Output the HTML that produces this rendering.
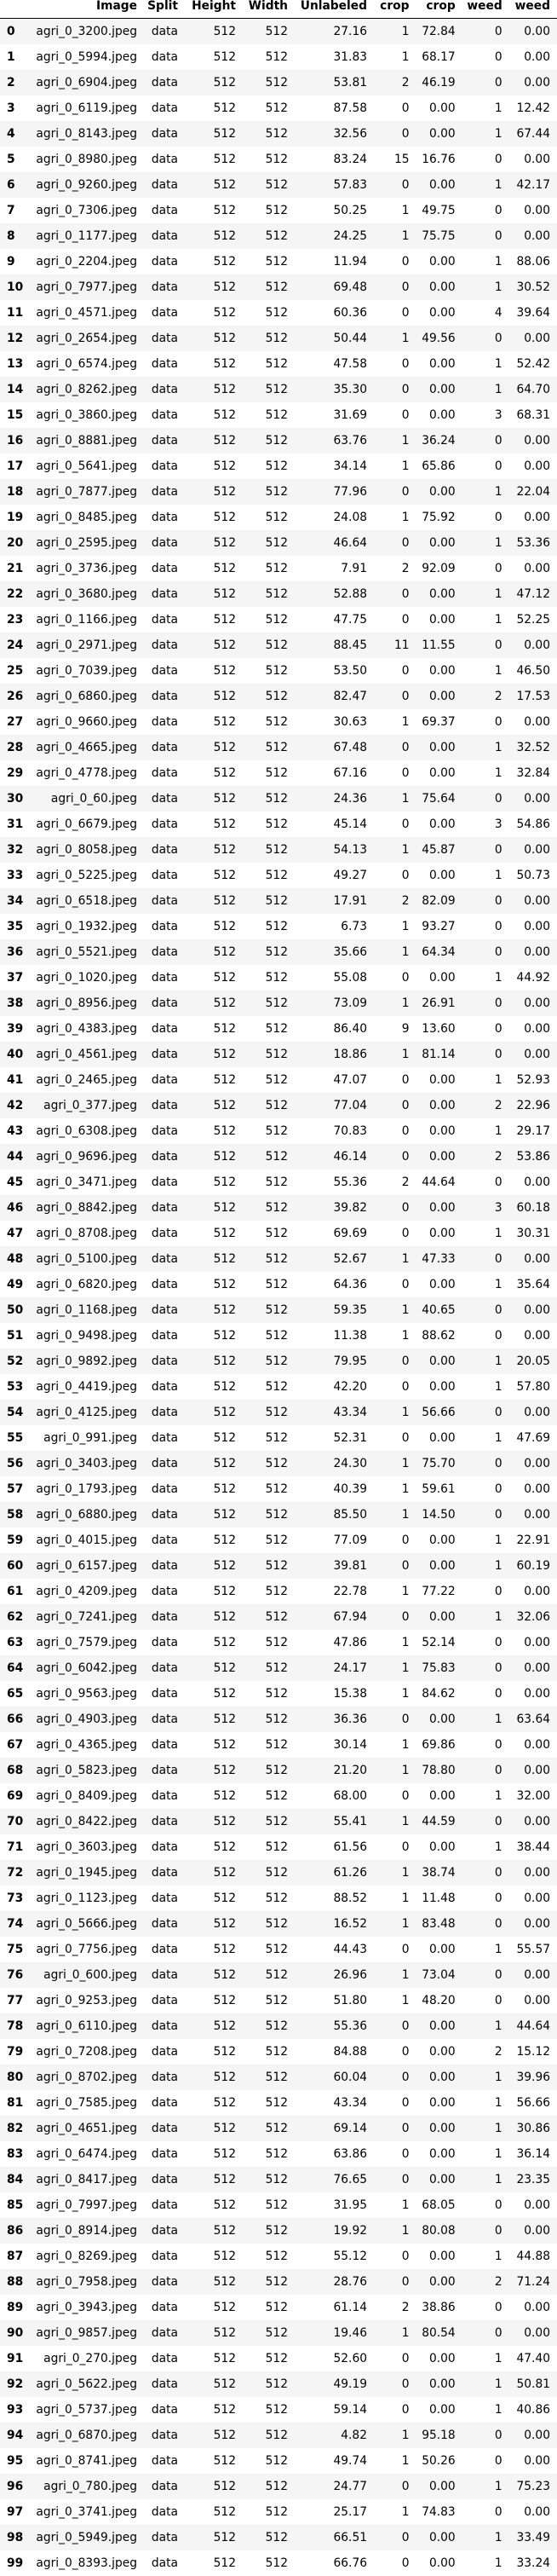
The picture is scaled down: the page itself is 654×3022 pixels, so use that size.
<!DOCTYPE html>
<html><head><meta charset="utf-8">
<style>
html,body{margin:0;padding:0;background:#fff;}
body{width:654px;height:3015px;position:relative;overflow:hidden;font-family:"DejaVu Sans","Liberation Sans",sans-serif;font-size:13.8px;color:#000;}
.hdr{position:absolute;top:0;left:0;width:654px;height:21px;border-bottom:1px solid #000;}
.c{position:absolute;white-space:nowrap;line-height:16px;}
.h{font-weight:bold;top:-1px;}
.row{position:absolute;left:0;width:654px;}
.odd{background:#f5f5f5;}
.idx{font-weight:bold;}
</style></head>
<body>
<div class="hdr"></div>
<div id="tbl"></div>
<script>
const imgs=["3200","5994","6904","6119","8143","8980","9260","7306","1177","2204","7977","4571","2654","6574","8262","3860","8881","5641","7877","8485","2595","3736","3680","1166","2971","7039","6860","9660","4665","4778","60","6679","8058","5225","6518","1932","5521","1020","8956","4383","4561","2465","377","6308","9696","3471","8842","8708","5100","6820","1168","9498","9892","4419","4125","991","3403","1793","6880","4015","6157","4209","7241","7579","6042","9563","4903","4365","5823","8409","8422","3603","1945","1123","5666","7756","600","9253","6110","7208","8702","7585","4651","6474","8417","7997","8914","8269","7958","3943","9857","270","5622","5737","6870","8741","780","3741","5949","8393"];
const unl=[27.16,31.83,53.81,87.58,32.56,83.24,57.83,50.25,24.25,11.94,69.48,60.36,50.44,47.58,35.30,31.69,63.76,34.14,77.96,24.08,46.64,7.91,52.88,47.75,88.45,53.50,82.47,30.63,67.48,67.16,24.36,45.14,54.13,49.27,17.91,6.73,35.66,55.08,73.09,86.40,18.86,47.07,77.04,70.83,46.14,55.36,39.82,69.69,52.67,64.36,59.35,11.38,79.95,42.20,43.34,52.31,24.30,40.39,85.50,77.09,39.81,22.78,67.94,47.86,24.17,15.38,36.36,30.14,21.20,68.00,55.41,61.56,61.26,88.52,16.52,44.43,26.96,51.80,55.36,84.88,60.04,43.34,69.14,63.86,76.65,31.95,19.92,55.12,28.76,61.14,19.46,52.60,49.19,59.14,4.82,49.74,24.77,25.17,66.51,66.76];
const cropN=[1,1,2,0,0,15,0,1,1,0,0,0,1,0,0,0,1,1,0,1,0,2,0,0,11,0,0,1,0,0,1,0,1,0,2,1,1,0,1,9,1,0,0,0,0,2,0,0,1,0,1,1,0,0,1,0,1,1,1,0,0,1,0,1,1,1,0,1,1,0,1,0,1,1,1,0,1,1,0,0,0,0,0,0,0,1,1,0,0,2,1,0,0,0,1,1,0,1,0,0];
const cropP=[72.84,68.17,46.19,0,0,16.76,0,49.75,75.75,0,0,0,49.56,0,0,0,36.24,65.86,0,75.92,0,92.09,0,0,11.55,0,0,69.37,0,0,75.64,0,45.87,0,82.09,93.27,64.34,0,26.91,13.60,81.14,0,0,0,0,44.64,0,0,47.33,0,40.65,88.62,0,0,56.66,0,75.70,59.61,14.50,0,0,77.22,0,52.14,75.83,84.62,0,69.86,78.80,0,44.59,0,38.74,11.48,83.48,0,73.04,48.20,0,0,0,0,0,0,0,68.05,80.08,0,0,38.86,80.54,0,0,0,95.18,50.26,0,74.83,0,0];
const weedN=[0,0,0,1,1,0,1,0,0,1,1,4,0,1,1,3,0,0,1,0,1,0,1,1,0,1,2,0,1,1,0,3,0,1,0,0,0,1,0,0,0,1,2,1,2,0,3,1,0,1,0,0,1,1,0,1,0,0,0,1,1,0,1,0,0,0,1,0,0,1,0,1,0,0,0,1,0,0,1,2,1,1,1,1,1,0,0,1,2,0,0,1,1,1,0,0,1,0,1,1];
const weedP=[0,0,0,12.42,67.44,0,42.17,0,0,88.06,30.52,39.64,0,52.42,64.70,68.31,0,0,22.04,0,53.36,0,47.12,52.25,0,46.50,17.53,0,32.52,32.84,0,54.86,0,50.73,0,0,0,44.92,0,0,0,52.93,22.96,29.17,53.86,0,60.18,30.31,0,35.64,0,0,20.05,57.80,0,47.69,0,0,0,22.91,60.19,0,32.06,0,0,0,63.64,0,0,32.00,0,38.44,0,0,0,55.57,0,0,44.64,15.12,39.96,56.66,30.86,36.14,23.35,0,0,44.88,71.24,0,0,47.40,50.81,40.86,0,0,75.23,0,33.49,33.24];
const headers=["Image","Split","Height","Width","Unlabeled","crop","crop","weed","weed"];
const headerNames=["image-header","split-header","height-header","width-header","unlabeled-header","crop-count-header","crop-percent-header","weed-count-header","weed-percent-header"];
const rights=[161,209,277,338,431,480.5,534.7,589.7,646];
const H0=22, RH=30;
const body=document.body;
headers.forEach((t,i)=>{
  const d=document.createElement('div');
  d.className='c h';
  d.style.right=(654-rights[i])+'px';
  d.textContent=t;
  
  
  body.appendChild(d);
});
const tbl=document.getElementById('tbl');
for(let r=0;r<imgs.length;r++){
  const row=document.createElement('div');
  row.className='row'+(r%2===0?' odd':'');
  const top=H0+r*RH;
  row.style.top=top+'px';
  row.style.height=RH+'px';
  
  
  tbl.appendChild(row);
  const vals=['agri_0_'+imgs[r]+'.jpeg','data','512','512',unl[r].toFixed(2),String(cropN[r]),cropP[r].toFixed(2),String(weedN[r]),weedP[r].toFixed(2)];
  const ty=(RH-16)/2;
  const ix=document.createElement('div');
  ix.className='c idx';
  ix.style.left='8px';
  ix.style.top=ty+'px';
  ix.textContent=String(r);
  
  
  row.appendChild(ix);
  vals.forEach((v,i)=>{
    const c=document.createElement('div');
    c.className='c';
    c.style.right=(654-rights[i])+'px';
    c.style.top=ty+'px';
    c.textContent=v;
    
    
    row.appendChild(c);
  });
}
</script>
</body></html>
